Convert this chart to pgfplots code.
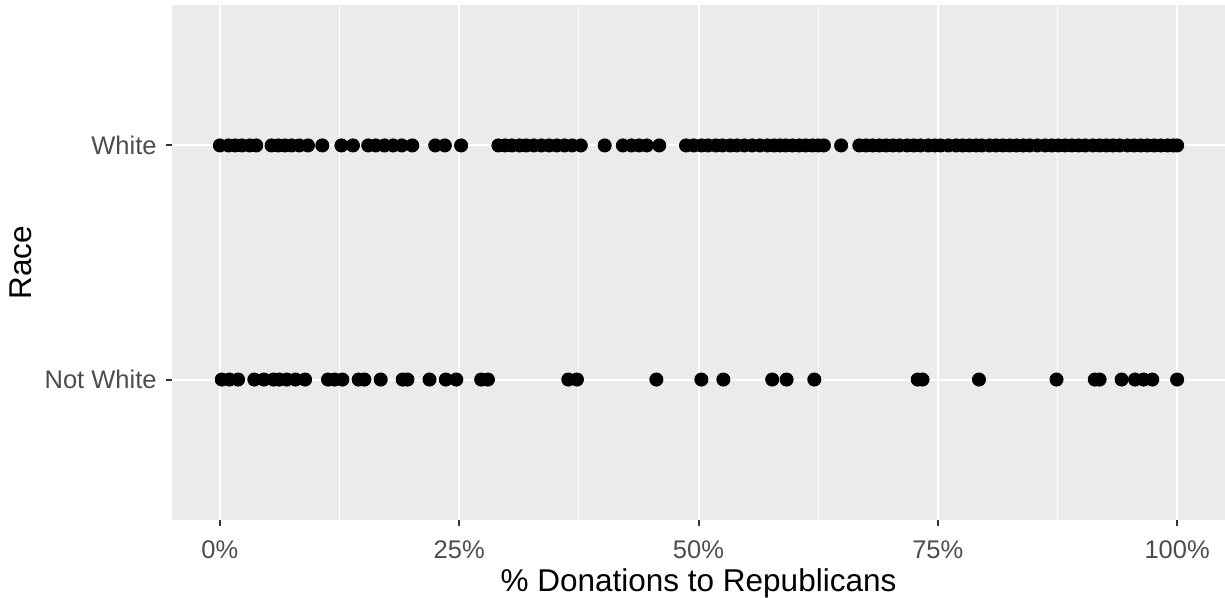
\documentclass[border=0pt]{standalone}
\usepackage{pgfplots}
\pgfplotsset{compat=1.18}
\usepackage{fontspec}
\setmainfont{Liberation Sans}
\definecolor{panelbg}{RGB}{235,235,235}
\definecolor{ticklab}{RGB}{77,77,77}
\definecolor{tickcol}{RGB}{51,51,51}
\begin{document}
\begin{tikzpicture}
\begin{axis}[
  scale only axis,
  width=526.5pt, height=257.5pt,
  xmin=-5, xmax=105, ymin=0.4, ymax=2.6,
  axis background/.style={fill=panelbg},
  axis line style={draw=none},
  xtick={0,25,50,75,100},
  xticklabels={0\%,25\%,50\%,75\%,100\%},
  minor xtick={12.5,37.5,62.5,87.5},
  ytick={1,2},
  yticklabels={Not White,White},
  xtick pos=bottom, ytick pos=left,
  tick align=outside,
  major tick length=3pt, minor tick length=0pt,
  tick style={color=tickcol, line width=1pt},
  grid=both,
  major grid style={white, line width=1pt},
  minor grid style={white, line width=0.5pt},
  xticklabel style={font=\fontsize{12.75}{15}\selectfont, color=ticklab, inner sep=0pt, anchor=base, yshift=-16pt},
  yticklabel style={font=\fontsize{12.75}{15}\selectfont, color=ticklab, inner sep=0pt, anchor=east, xshift=-4.5pt},
  xlabel={\% Donations to Republicans},
  ylabel={Race},
  xlabel style={font=\fontsize{15.75}{18}\selectfont, at={(axis description cs:0.5,-0.1398)}, anchor=base, inner sep=0pt},
  ylabel style={font=\fontsize{15.75}{18}\selectfont, at={(axis description cs:-0.1330,0.5)}, anchor=base, inner sep=0pt},
  clip=false,
]
\addplot[only marks, mark=*, mark size=3.3pt, black] table[row sep=\\] {
x y\\
0 2\\ 0.9 2\\ 1.6 2\\ 2.3 2\\ 3.1 2\\ 3.8 2\\
5.4 2\\ 6.1 2\\ 6.8 2\\ 7.5 2\\ 8.3 2\\ 9.2 2\\
10.7 2\\ 12.7 2\\ 13.9 2\\
15.5 2\\ 16.3 2\\ 17.2 2\\ 18.1 2\\ 19.0 2\\ 20.1 2\\
22.5 2\\ 23.5 2\\ 25.2 2\\
29.1 2\\ 29.8 2\\ 30.5 2\\ 31.3 2\\ 32.0 2\\ 32.8 2\\ 33.6 2\\ 34.4 2\\ 35.2 2\\ 36.0 2\\ 36.8 2\\ 37.7 2\\
40.2 2\\
42.1 2\\ 43.0 2\\ 43.8 2\\ 44.6 2\\ 45.9 2\\
48.7 2\\ 49.5 2\\ 50.3 2\\ 51.0 2\\ 51.8 2\\ 52.5 2\\ 53.3 2\\ 54.0 2\\ 54.8 2\\ 55.6 2\\ 56.4 2\\ 57.2 2\\ 57.9 2\\ 58.5 2\\ 59.1 2\\ 59.8 2\\ 60.5 2\\ 61.2 2\\ 61.9 2\\ 62.5 2\\ 63.1 2\\
64.9 2\\
66.8 2\\ 67.5 2\\ 68.2 2\\ 68.9 2\\ 69.6 2\\ 70.3 2\\ 71.0 2\\ 71.8 2\\ 72.5 2\\ 73.2 2\\ 74.0 2\\ 74.7 2\\ 75.3 2\\ 76.1 2\\ 76.9 2\\ 77.6 2\\ 78.3 2\\ 79.0 2\\ 79.6 2\\ 80.4 2\\ 81.1 2\\ 81.8 2\\ 82.5 2\\ 83.2 2\\ 83.9 2\\ 84.6 2\\ 85.4 2\\ 86.2 2\\ 86.9 2\\ 87.6 2\\ 88.3 2\\ 89.0 2\\ 89.7 2\\ 90.4 2\\ 91.2 2\\ 91.9 2\\ 92.6 2\\ 93.3 2\\ 94.0 2\\ 94.8 2\\ 95.5 2\\ 96.2 2\\ 96.9 2\\ 97.6 2\\ 98.3 2\\ 99.0 2\\ 99.6 2\\ 100 2\\
};
\addplot[only marks, mark=*, mark size=3.3pt, black] table[row sep=\\] {
x y\\
0.2 1\\ 1.0 1\\ 1.9 1\\
3.6 1\\ 4.6 1\\ 5.6 1\\ 6.2 1\\ 7.0 1\\ 7.9 1\\ 8.9 1\\
11.3 1\\ 12.0 1\\ 12.8 1\\
14.5 1\\ 15.1 1\\ 16.8 1\\
19.1 1\\ 19.6 1\\ 21.9 1\\ 23.6 1\\ 24.7 1\\
27.3 1\\ 28.0 1\\ 36.4 1\\ 37.3 1\\ 45.6 1\\ 50.3 1\\ 52.6 1\\
57.7 1\\ 59.2 1\\ 62.1 1\\ 72.9 1\\ 73.4 1\\ 79.3 1\\ 87.4 1\\
91.4 1\\ 91.9 1\\ 94.2 1\\ 95.6 1\\ 96.5 1\\ 97.4 1\\ 100 1\\
};
\end{axis}
\pgfresetboundingbox
\path ([xshift=-86pt,yshift=-39pt]current axis.south west) rectangle ([yshift=2.5pt]current axis.north east);
\end{tikzpicture}
\end{document}
